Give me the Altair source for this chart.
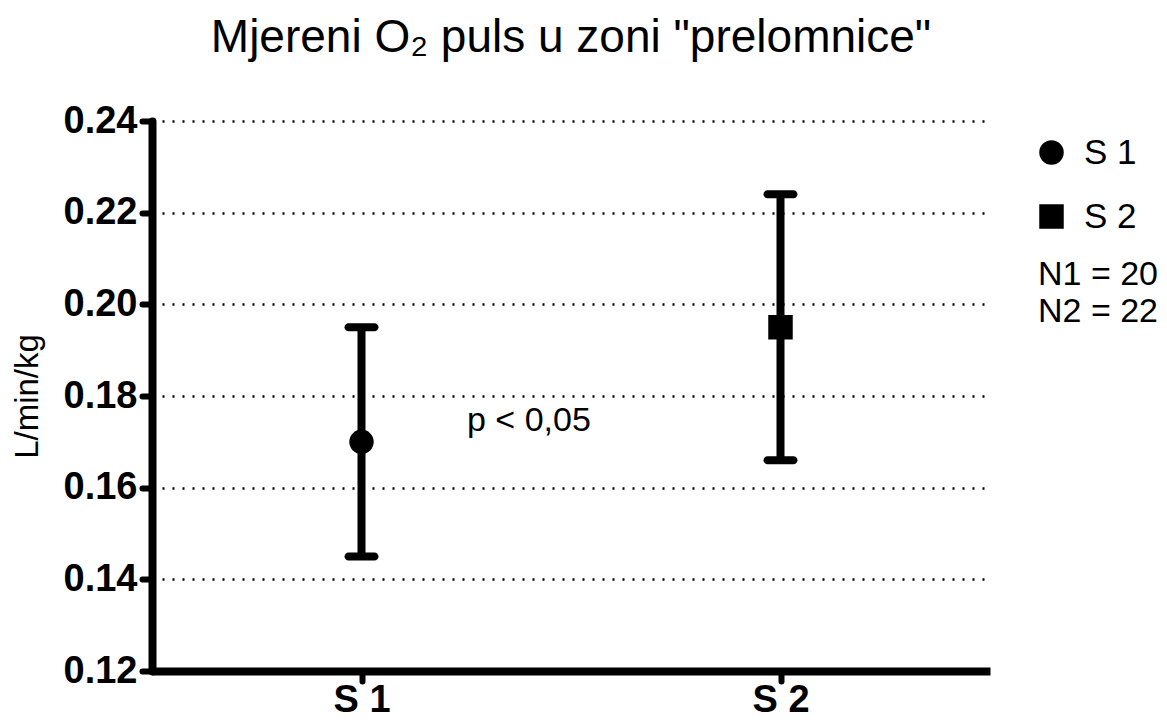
import altair as alt
import pandas as pd

groups = ["S 1", "S 2"]
means = [0.170, 0.195]
lows = [0.145, 0.166]
highs = [0.195, 0.224]
shapes = ["circle", "square"]
y_ticks = [0.12, 0.14, 0.16, 0.18, 0.20, 0.22, 0.24]
notes = ["N1 = 20", "N2 = 22"]
p_label = "p < 0,05"
title_text = 'Mjereni O\u2082 puls u zoni "prelomnice"'
y_title = "L/min/kg"

FONT = "Liberation Sans"

df = pd.DataFrame({"group": groups, "mean": means, "lo": lows, "hi": highs})

x_enc = alt.X(
    "group:N",
    scale=alt.Scale(type="point", padding=0.5, domain=groups),
    axis=alt.Axis(
        title=None, labelAngle=0, labelFont=FONT, labelFontSize=38,
        labelFontWeight="bold", labelColor="black", domainColor="black",
        domainWidth=8, tickColor="black", tickWidth=6, tickSize=10,
        tickCap="round", labelPadding=0, grid=False,
    ),
)

y_scale = alt.Scale(domain=[0.12, 0.24], nice=False, zero=False)
y_axis = alt.Axis(
    values=y_ticks, format=".2f", title=y_title, titleFont=FONT,
    titleFontSize=33, titleFontWeight="normal", titleColor="black",
    titlePadding=19, labelFont=FONT, labelFontSize=38, labelFontWeight="bold",
    labelColor="black", domainColor="black", domainWidth=8, domainCap="round",
    tickColor="black", tickWidth=6, tickSize=10, tickCap="round",
    labelPadding=5, grid=True, gridColor="black", gridDash=[2, 8], gridWidth=2.5,
)

base = alt.Chart(df)

bars = base.mark_rule(color="black", strokeWidth=8).encode(
    x=x_enc, y=alt.Y("lo:Q", scale=y_scale, axis=y_axis), y2="hi:Q"
)
cap_lo = base.mark_tick(color="black", size=34, thickness=8, cornerRadius=4, opacity=1).encode(
    x=x_enc, y=alt.Y("lo:Q", scale=y_scale)
)
cap_hi = base.mark_tick(color="black", size=34, thickness=8, cornerRadius=4, opacity=1).encode(
    x=x_enc, y=alt.Y("hi:Q", scale=y_scale)
)
points = base.mark_point(filled=True, color="black", size=600, opacity=1).encode(
    x=x_enc,
    y=alt.Y("mean:Q", scale=y_scale),
    shape=alt.Shape(
        "group:N",
        scale=alt.Scale(domain=groups, range=shapes),
        legend=alt.Legend(
            title=None, orient="none", legendX=882, legendY=14,
            labelFont=FONT, labelFontSize=35, labelColor="black",
            symbolSize=600, symbolFillColor="black", symbolStrokeColor="black",
            symbolStrokeWidth=0, symbolOpacity=1, rowPadding=28,
            labelOffset=15, padding=0,
        ),
    ),
)

p_text = alt.Chart(pd.DataFrame({"t": [p_label]})).mark_text(
    font=FONT, fontSize=34, color="black", align="left", baseline="middle"
).encode(text="t:N", x=alt.value(315), y=alt.value(300))

n_text = alt.Chart(pd.DataFrame({"t": ["\n".join(notes)]})).mark_text(
    font=FONT, fontSize=34, color="black", align="left", baseline="alphabetic",
    lineBreak="\n", lineHeight=37,
).encode(text="t:N", x=alt.value(886), y=alt.value(164))

chart = alt.layer(bars, cap_lo, cap_hi, points, p_text, n_text).properties(
    width=838,
    height=550,
    background="white",
    title=alt.TitleParams(
        title_text, font=FONT, fontSize=46, fontWeight="normal", color="black",
        anchor="middle", offset=40,
    ),
    autosize=alt.AutoSizeParams(type="none"),
    padding={"left": 144, "top": 113, "right": 169, "bottom": 47},
).configure_view(strokeWidth=0, stroke="transparent")

chart.save("out.html", embed_options={"renderer": "svg", "actions": False})
